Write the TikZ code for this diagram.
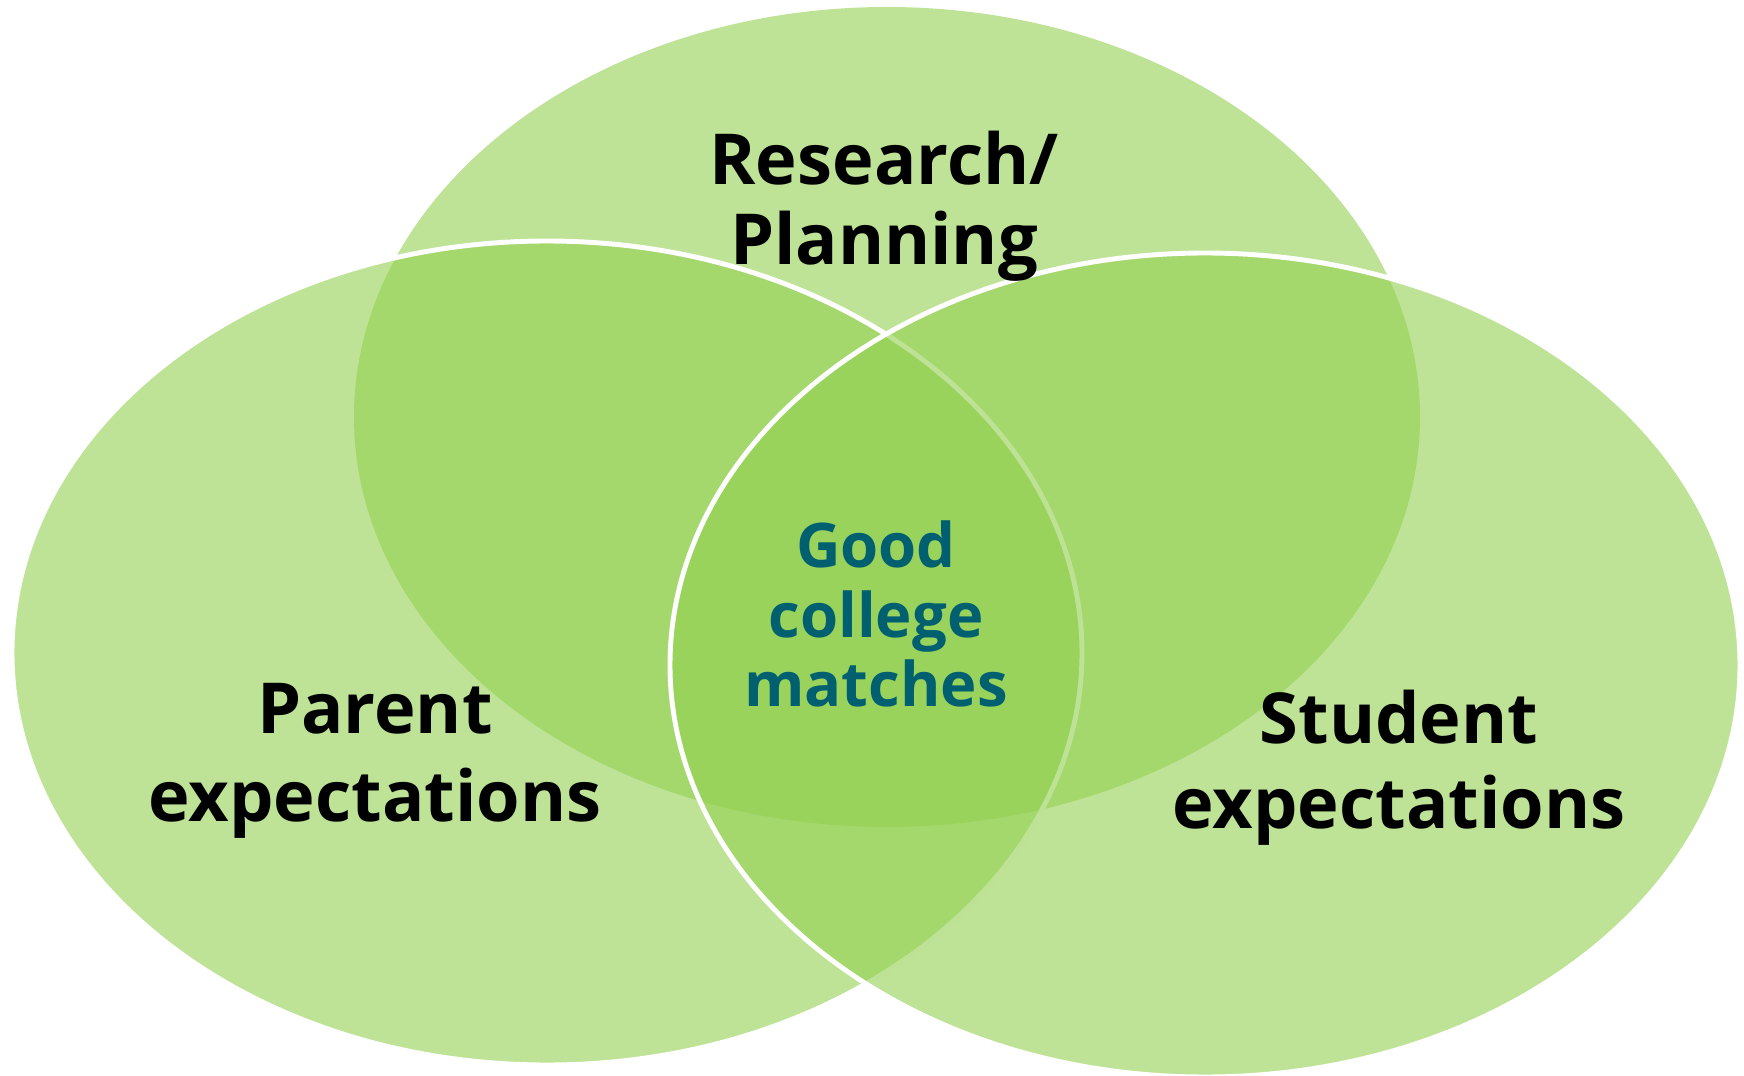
\documentclass[tikz,border=0pt]{standalone}
\usepackage{fontspec}
\setmainfont{Open Sans}
\definecolor{venngreen}{RGB}{146,208,80}
\definecolor{matchteal}{RGB}{0,96,112}

\begin{document}
\begin{tikzpicture}[x=0.01cm,y=-0.01cm,
  setfill/.style={fill=venngreen,fill opacity=0.6},
  setrim/.style={draw=white,line width=1.4pt},
  setlabel/.style={font=\bfseries\fontsize{20}{23}\selectfont,align=center,anchor=base},
  midlabel/.style={font=\bfseries\fontsize{17.5}{19.8}\selectfont,align=center,anchor=base,text=matchteal}]

\useasboundingbox (0,0) rectangle (1744,1076);

%------------------------
% The three sets, back to front
%------------------------
\fill[setfill] (887,417) ellipse [x radius=533, y radius=410];
\path[setfill,setrim] (547,653) ellipse [x radius=535, y radius=412];
\path[setfill,setrim] (1205,665) ellipse [x radius=535, y radius=412];

%------------------------
% Labels (anchored on the last line)
%------------------------
\node[setlabel] (research) at (884,265) {Research/\\Planning};
\node[setlabel,font=\bfseries\fontsize{20}{25}\selectfont] (parent) at (375,821) {Parent\\expectations};
\node[setlabel,font=\bfseries\fontsize{20}{24}\selectfont] (student) at (1399,828) {Student\\expectations};
\node[midlabel] (match) at (876,707) {Good\\college\\matches};

\end{tikzpicture}
\end{document}
